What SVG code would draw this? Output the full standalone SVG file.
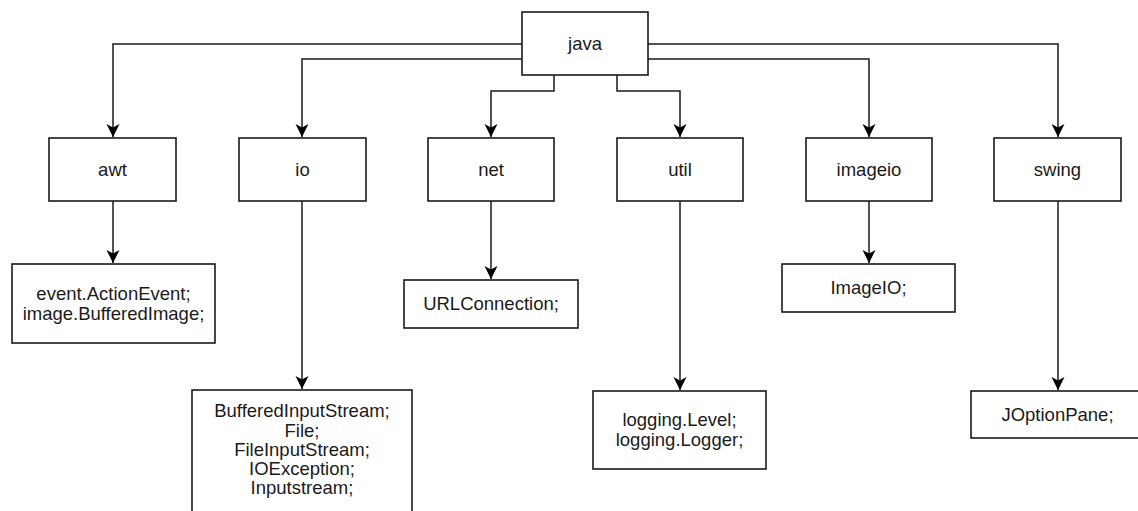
<svg xmlns="http://www.w3.org/2000/svg" width="1138" height="511" viewBox="0 0 1138 511">
<style>
.box{fill:#fff;stroke:#1a1a1a;stroke-width:1.6}
.lbl{font-family:"Liberation Sans",Arial,sans-serif;font-size:18.5px;fill:#1a1a1a;text-anchor:middle}
.edge{fill:none;stroke:#1a1a1a;stroke-width:1.5}
</style>
<defs>
<marker id="arr" markerUnits="userSpaceOnUse" markerWidth="14" markerHeight="14" viewBox="0 0 14 14" refX="13" refY="6.5" orient="auto">
<path d="M0,0 L13,6.5 L0,13 L3.5,6.5 Z" fill="#000"/>
</marker>
</defs>
<rect width="1138" height="511" fill="#fff"/>
<g id="connectors">
<path class="edge" d="M522,44 H113 V137" marker-end="url(#arr)"/>
<path class="edge" d="M522,59 H302 V137" marker-end="url(#arr)"/>
<path class="edge" d="M554,75 V91 H491 V137" marker-end="url(#arr)"/>
<path class="edge" d="M617,75 V91 H680 V137" marker-end="url(#arr)"/>
<path class="edge" d="M648,59 H869 V137" marker-end="url(#arr)"/>
<path class="edge" d="M648,44 H1058 V137" marker-end="url(#arr)"/>
<path class="edge" d="M113,201 V263" marker-end="url(#arr)"/>
<path class="edge" d="M302,201 V389" marker-end="url(#arr)"/>
<path class="edge" d="M491,201 V279" marker-end="url(#arr)"/>
<path class="edge" d="M680,201 V390" marker-end="url(#arr)"/>
<path class="edge" d="M869,201 V263" marker-end="url(#arr)"/>
<path class="edge" d="M1058,201 V390" marker-end="url(#arr)"/>
</g>
<g id="java"><rect class="box" x="522" y="12" width="126" height="63"/><text class="lbl" x="585" y="50">java</text></g>
<g id="awt"><rect class="box" x="49" y="138" width="127" height="63"/><text class="lbl" x="112.5" y="176">awt</text></g>
<g id="io"><rect class="box" x="239" y="138" width="127" height="63"/><text class="lbl" x="302.5" y="176">io</text></g>
<g id="net"><rect class="box" x="428" y="138" width="126" height="63"/><text class="lbl" x="491" y="176">net</text></g>
<g id="util"><rect class="box" x="617" y="138" width="126" height="63"/><text class="lbl" x="680" y="176">util</text></g>
<g id="imageio"><rect class="box" x="806" y="138" width="126" height="63"/><text class="lbl" x="869" y="176">imageio</text></g>
<g id="swing"><rect class="box" x="994" y="138" width="127" height="63"/><text class="lbl" x="1057.5" y="176">swing</text></g>
<g id="awt-leaf"><rect class="box" x="12" y="264" width="203" height="79"/><text class="lbl" x="113.5" y="300">event.ActionEvent;</text><text class="lbl" x="113.5" y="320">image.BufferedImage;</text></g>
<g id="io-leaf"><rect class="box" x="192" y="390" width="220" height="130"/><text class="lbl" x="302" y="417">BufferedInputStream;</text><text class="lbl" x="302" y="436.5">File;</text><text class="lbl" x="302" y="456">FileInputStream;</text><text class="lbl" x="302" y="475">IOException;</text><text class="lbl" x="302" y="494">Inputstream;</text></g>
<g id="net-leaf"><rect class="box" x="404" y="280" width="174" height="48"/><text class="lbl" x="491" y="310">URLConnection;</text></g>
<g id="util-leaf"><rect class="box" x="593" y="391" width="173" height="78"/><text class="lbl" x="679.5" y="426">logging.Level;</text><text class="lbl" x="679.5" y="446">logging.Logger;</text></g>
<g id="imageio-leaf"><rect class="box" x="782" y="264" width="173" height="48"/><text class="lbl" x="868.5" y="294">ImageIO;</text></g>
<g id="swing-leaf"><rect class="box" x="971" y="391" width="173" height="47"/><text class="lbl" x="1057.5" y="421">JOptionPane;</text></g>
</svg>
